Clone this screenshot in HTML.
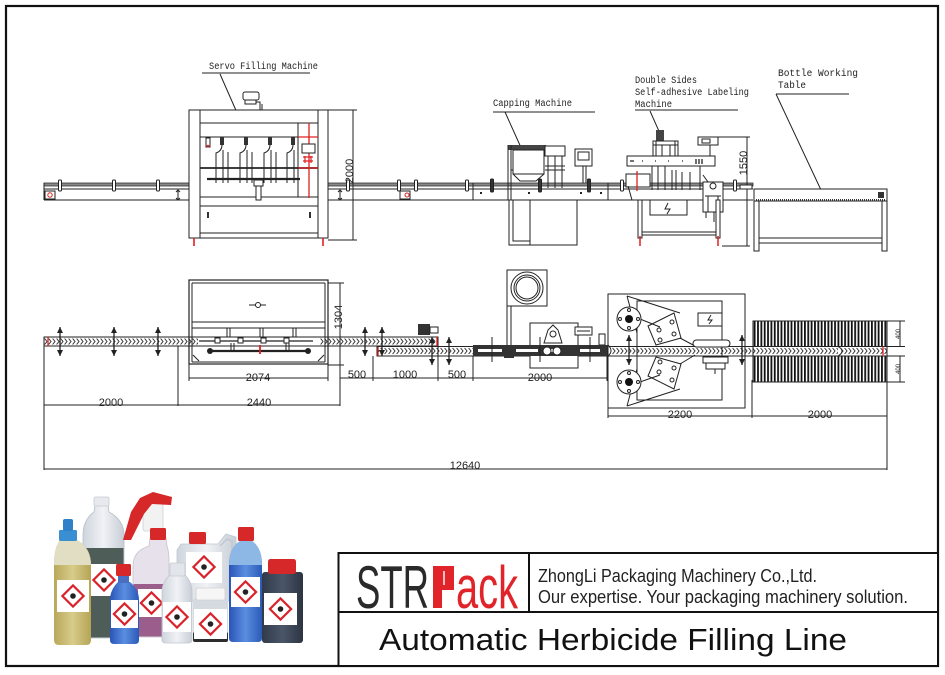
<!DOCTYPE html>
<html><head><meta charset="utf-8">
<style>
html,body{margin:0;padding:0;background:#fff;width:945px;height:675px;overflow:hidden}
svg{display:block}
.s{stroke:#222;stroke-width:1;fill:none}
.w{stroke:#222;stroke-width:1;fill:#fff}
.r{stroke:#e02020;stroke-width:1.3;fill:none}
.lb{font-family:"Liberation Mono",monospace;font-size:10px;fill:#222}
.dm{font-family:"Liberation Sans",sans-serif;font-size:11px;fill:#222;text-anchor:middle}
</style></head><body>
<svg width="945" height="675" viewBox="0 0 945 675" xmlns="http://www.w3.org/2000/svg">
<defs>
<pattern id="ch1" x="0" y="337" width="4" height="9" patternUnits="userSpaceOnUse">
<rect width="4" height="9" fill="#fff"/>
<path d="M0.6,1.5 L3,4.5 L0.6,7.5" stroke="#333" stroke-width="1" fill="none"/>
</pattern>
<pattern id="ch2" x="0" y="346" width="4" height="10" patternUnits="userSpaceOnUse">
<rect width="4" height="10" fill="#fff"/>
<path d="M0.6,2 L3,5 L0.6,8" stroke="#333" stroke-width="1" fill="none"/>
</pattern>
<pattern id="str" x="0" y="0" width="3.35" height="10" patternUnits="userSpaceOnUse">
<rect x="0" y="0" width="1.8" height="10" fill="#111"/>
</pattern>
</defs>

<!-- outer border -->
<rect x="6" y="6" width="932" height="660" fill="none" stroke="#111" stroke-width="2.2"/>

<!-- ================= TOP SIDE VIEW ================= -->
<!-- labels -->
<text class="lb" x="209" y="69" textLength="109" lengthAdjust="spacingAndGlyphs">Servo Filling Machine</text>
<path class="s" d="M202,73 H310 M220,74 L238,115"/>
<text class="lb" x="493" y="106" textLength="79" lengthAdjust="spacingAndGlyphs">Capping Machine</text>
<path class="s" d="M493,112 H595 M505,112 L523,152"/>
<text class="lb" x="635" y="83" textLength="62" lengthAdjust="spacingAndGlyphs">Double Sides</text>
<text class="lb" x="635" y="95" textLength="114" lengthAdjust="spacingAndGlyphs">Self-adhesive Labeling</text>
<text class="lb" x="635" y="107" textLength="37" lengthAdjust="spacingAndGlyphs">Machine</text>
<path class="s" d="M635,110 H738 M650,111 L662,138"/>
<text class="lb" x="778" y="76" textLength="80" lengthAdjust="spacingAndGlyphs">Bottle Working</text>
<text class="lb" x="778" y="88" textLength="28" lengthAdjust="spacingAndGlyphs">Table</text>
<path class="s" d="M776,94 H849 M776,94 L821,190"/>

<!-- conveyor side -->
<rect x="44" y="183" width="709" height="3" fill="#888" stroke="#333" stroke-width="0.8"/>
<path class="s" d="M44,189 H753 M44,200 H753 M44,183 V200"/>
<rect x="45" y="191" width="10" height="8" class="w"/>
<circle cx="50" cy="195" r="2.2" fill="none" stroke="#e02020"/>
<rect x="400" y="191" width="10" height="8" class="w"/>
<circle cx="407" cy="195" r="2" fill="none" stroke="#e02020"/>
<g class="w">
<rect x="58.5" y="180" width="3" height="11" rx="1"/>
<rect x="112.5" y="180" width="3" height="11" rx="1"/>
<rect x="156.5" y="180" width="3" height="11" rx="1"/>
<rect x="346.5" y="180" width="3" height="11" rx="1"/>
<rect x="397.5" y="180" width="3" height="11" rx="1"/>
<rect x="414.5" y="180" width="3" height="11" rx="1"/>
<rect x="465.5" y="180" width="3" height="11" rx="1"/>
<rect x="490.5" y="179" width="3" height="13" rx="1" fill="#333"/>
<rect x="538.5" y="179" width="3" height="13" rx="1" fill="#333"/>
<rect x="587.5" y="179" width="3" height="13" rx="1" fill="#333"/>
<rect x="620.5" y="180" width="3" height="11" rx="1"/>
<rect x="733.5" y="180" width="3" height="11" rx="1"/>
</g>
<path class="s" d="M178,190 V200 M176,192 L178,190 L180,192 M176,198 L178,200 L180,198 M340,190 V200 M338,192 L340,190 L342,192 M338,198 L340,200 L342,198"/>
<path class="s" d="M473,183 V200 M608,183 V200" stroke-width="0.8"/>
<path d="M480,193 h2 M528,193 h2 M580,193 h2 M600,193 h2" stroke="#222" stroke-width="2"/>

<!-- filling machine side -->
<rect x="189" y="110" width="139" height="128" class="w" stroke-width="1.2"/>
<path class="s" d="M200,110 V238 M318,110 V238 M200,123 H318 M200,137 H298 M298,123 V197 M200,197 H318 M200,206 H318 M200,233 H318"/>
<path d="M200,168 H318" stroke="#222" stroke-width="1.8"/>
<path class="r" d="M309,123 V198 M298,137 H318 M298,168 H318"/>
<rect x="302" y="144" width="13" height="9" class="w" stroke-width="1.3"/>
<path d="M303,157 h10 M303,161 h10 M305,156 v7 M311,156 v7" stroke="#e02020" stroke-width="1.2"/>
<g class="s">
<path d="M222,137 v8 q0,6 -6,8 v30 M223,150 v33 M228,152 v31"/>
<path d="M246,137 v8 q0,6 -6,8 v30 M247,150 v33 M252,152 v31"/>
<path d="M270,137 v8 q0,6 -6,8 v30 M271,150 v33 M276,152 v31"/>
<path d="M293,137 v8 q0,6 -6,8 v30 M294,150 v33"/>
</g>
<rect x="220" y="137" width="4" height="8" fill="#333"/>
<rect x="244" y="137" width="4" height="8" fill="#333"/>
<rect x="268" y="137" width="4" height="8" fill="#333"/>
<rect x="291" y="137" width="4" height="8" fill="#333"/>
<rect x="206" y="138" width="4" height="9" class="w"/>
<circle cx="208" cy="146" r="1.3" fill="#e02020"/>
<path d="M207,179 H300" stroke="#222" stroke-width="2.2"/>
<rect x="254" y="180" width="9" height="6" class="w"/>
<rect x="256" y="186" width="5" height="14" class="w"/>
<rect x="207" y="212" width="2" height="6" fill="#333"/>
<rect x="309" y="212" width="2" height="6" fill="#333"/>
<rect x="243" y="92" width="16" height="8" rx="2" class="w" stroke-width="1.2"/>
<rect x="245" y="100" width="11" height="4" class="w"/>
<path class="s" d="M256,102 H260 V110 M262,104 V110"/>
<path d="M194,238 V246 M323,238 V246" stroke="#e02020" stroke-width="1.6"/>
<path class="s" d="M353,110 V240 M328,110 H357 M328,240 H357"/>
<text class="dm" transform="translate(353,171) rotate(-90)">2000</text>

<!-- capping machine side -->
<rect x="508" y="145" width="38" height="5" fill="#444"/>
<path class="s" d="M508,145 V200 M511,145 V200"/>
<rect x="513" y="150" width="31" height="24" class="w"/>
<path class="s" d="M513,174 L520,181 H536 L544,174 M511,170 H513"/>
<rect x="545" y="146" width="20" height="10" class="w"/>
<path class="s" d="M548,156 V188 M555,156 V188 M562,156 V188 M545,166 H565 M545,170 H565"/>
<rect x="575" y="149" width="17" height="17" class="w" stroke-width="1.2"/>
<rect x="578" y="152" width="11" height="8" class="w"/>
<path class="s" d="M583,166 V183 M586,166 V183"/>
<rect x="509" y="200" width="21" height="45" class="w"/>
<path class="s" d="M513,200 V241 H530"/>
<rect x="530" y="200" width="47" height="45" class="w"/>

<!-- labeling machine side -->
<rect x="656" y="130" width="8" height="11" fill="#444"/>
<rect x="653" y="141" width="25" height="16" class="w"/>
<path class="s" d="M656,141 V157 M662,145 V157 M670,145 V157 M675,141 V157 M653,145 H678"/>
<rect x="627" y="156" width="88" height="10" class="w" stroke-width="1.2"/>
<path d="M630,161 h4 M642,161 h1 M655,161 h1 M668,161 h1 M682,161 h1 M696,159 v5 M699,159 v5 M702,159 v5" stroke="#222" stroke-width="1.3"/>
<rect x="698" y="137" width="20" height="8" class="w"/>
<rect x="702" y="139" width="8" height="4" class="w"/>
<path class="s" d="M710,145 V156"/>
<rect x="626" y="174" width="24" height="13" class="w"/>
<path class="r" d="M637,171 V191"/>
<path class="s" d="M652,166 V190 M658,166 V190 M665,166 V190 M672,170 V190 M676,170 V190 M682,172 V190 M690,172 V190 M700,166 V190"/>
<rect x="703" y="182" width="20" height="30" class="w" stroke-width="1.2"/>
<circle cx="713" cy="186" r="3" class="w"/>
<path class="s" d="M705,196 H721 M708,196 V212 M718,196 V212 M703,175 L708,182 M706,212 V218 M714,212 V222"/>
<rect x="650" y="200" width="37" height="15" class="w"/>
<path d="M668,203 L665,209 H670 L667,214" stroke="#222" fill="none"/>
<rect x="638" y="200" width="4" height="38" class="w"/>
<rect x="716" y="200" width="4" height="38" class="w"/>
<path class="s" d="M642,232 H716 M642,235 H716 M628,186 L632,200"/>
<path d="M640,236 V246 M718,236 V246" stroke="#e02020" stroke-width="1.5"/>
<path class="s" d="M747,137 V246 M718,137 H750 M722,246 H750"/>
<text class="dm" transform="translate(747,163) rotate(-90)">1550</text>
<rect x="740" y="185" width="12" height="4" class="w"/>

<!-- table -->
<rect x="754" y="189" width="133" height="12" class="w" stroke-width="1.2"/>
<path d="M756,200 H885" stroke="#333" stroke-width="2" stroke-dasharray="1,1"/>
<rect x="878" y="192" width="6" height="6" fill="#333"/>
<rect x="754" y="201" width="5" height="50" class="w"/>
<rect x="882" y="201" width="5" height="50" class="w"/>
<rect x="759" y="238" width="123" height="5" class="w"/>

<!-- ================= MIDDLE TOP VIEW ================= -->
<!-- conveyors -->
<rect x="44" y="337" width="394" height="9" fill="url(#ch1)" stroke="#222" stroke-width="1"/>
<rect x="377" y="346.5" width="510" height="9.5" fill="url(#ch2)" stroke="#222" stroke-width="1"/>
<path class="r" d="M48,337 V346 M378,347 V356 M437,337 V346 M883,346.5 V356"/>

<!-- filling machine top -->
<rect x="189" y="280" width="139" height="84" fill="none" stroke="#222" stroke-width="1.2"/>
<rect x="198" y="336" width="122" height="20" fill="#fff"/>
<path class="s" d="M192,283 V362 M325,283 V362 M192,283 H325 M192,322 H325 M192,328 H325 M192,362 H325 M198,337 H320 M198,346 H320 M227,328 V337 M230,328 V337 M260,328 V337 M263,328 V337 M293,328 V337 M296,328 V337"/>
<path class="s" d="M249,305 H266"/>
<circle cx="258" cy="305" r="2.5" class="w"/>
<path class="s" d="M193,355 L199,361 M324,355 L318,361"/>
<path d="M199,341 H313" stroke="#222" stroke-width="1.2"/>
<path d="M210,351 H308" stroke="#222" stroke-width="2.2"/>
<rect x="215" y="338" width="5" height="5" class="w"/><rect x="238" y="338" width="5" height="5" class="w"/><rect x="261" y="338" width="5" height="5" class="w"/><rect x="284" y="338" width="5" height="5" class="w"/>
<circle cx="210" cy="351" r="3" fill="#222"/><circle cx="308" cy="351" r="3" fill="#222"/>
<path class="s" d="M231,343 V352 M234,343 V352 M286,343 V352 M289,343 V352"/>
<path d="M260,345 V354" stroke="#e02020" stroke-width="1.8"/>
<path class="s" d="M340,283 V365 M328,283 H344 M328,365 H344"/>
<text class="dm" transform="translate(342,317) rotate(-90)">1304</text>

<!-- posts (double arrows) -->
<g fill="#222" stroke="#222" stroke-width="1.3">
<path d="M60,327 V356 M114,327 V356 M158,327 V356 M365,327 V356 M382,327 V356 M432,337 V365 M449,337 V365 M629,335 V365 M742,335 V365"/>
</g>
<g fill="#222">
<path d="M57,333 L60,327 L63,333Z M57,350 L60,356 L63,350Z M111,333 L114,327 L117,333Z M111,350 L114,356 L117,350Z M155,333 L158,327 L161,333Z M155,350 L158,356 L161,350Z M362,333 L365,327 L368,333Z M362,350 L365,356 L368,350Z M379,333 L382,327 L385,333Z M379,350 L382,356 L385,350Z M429,343 L432,337 L435,343Z M429,359 L432,365 L435,359Z M446,343 L449,337 L452,343Z M446,359 L449,365 L452,359Z M626,341 L629,335 L632,341Z M626,359 L629,365 L632,359Z M739,341 L742,335 L745,341Z M739,359 L742,365 L745,359Z"/>
</g>
<!-- small motor at transfer -->
<rect x="418" y="324" width="12" height="11" fill="#333"/>
<rect x="430" y="327" width="8" height="6" class="w"/>

<!-- capping top -->
<rect x="507" y="270" width="40" height="36" class="w" stroke-width="1.2"/>
<circle cx="527" cy="288" r="16" class="w" stroke-width="1.3"/>
<circle cx="527" cy="288" r="13" class="s"/>
<circle cx="527" cy="288" r="11" class="s"/>
<path class="s" d="M507,306 V356 M511,306 V356"/>
<rect x="530" y="323" width="48" height="45" class="w"/>
<path class="s" d="M544,343 L548,330 L553,325 L558,330 L562,343 Z"/>
<circle cx="553" cy="334" r="3" class="w"/>
<rect x="575" y="327" width="17" height="8" class="w"/>
<path class="s" d="M577,331 H590"/>
<rect x="599" y="334" width="6" height="11" class="w"/>
<rect x="473" y="345" width="135" height="11" fill="#333"/>
<path d="M478,350.5 h24 M516,350.5 h22 M548,350.5 h8 M580,350.5 h20" stroke="#fff" stroke-width="3"/>
<circle cx="547" cy="351" r="4" class="w"/><circle cx="557" cy="351" r="4" class="w"/>
<rect x="504" y="354" width="10" height="4" fill="#333"/>
<path class="s" d="M492,337 V362 M540,337 V362 M590,337 V362"/>
<path d="M608,345 Q614,351 608,356" class="w"/>

<!-- labeling top -->
<rect x="608" y="294" width="137" height="114" fill="none" stroke="#222"/>
<rect x="637" y="301" width="85" height="99" fill="none" stroke="#222"/>
<rect x="698" y="313" width="24" height="13" class="w"/>
<path d="M711,315 L708,320 H712 L709,324" stroke="#222" fill="none"/>
<path class="s" d="M627,296 L680,313 M627,296 L637,333 M627,406 L680,389 M627,406 L637,369"/>
<polygon points="648,326 674,313 681,338 656,345" class="w"/>
<polygon points="648,376 674,389 681,364 656,357" class="w"/>
<circle cx="659" cy="330" r="2" class="s"/><circle cx="672" cy="322" r="2" class="s"/><circle cx="660" cy="340" r="2" class="s"/><circle cx="674" cy="334" r="2" class="s"/>
<circle cx="659" cy="372" r="2" class="s"/><circle cx="672" cy="380" r="2" class="s"/><circle cx="660" cy="362" r="2" class="s"/><circle cx="674" cy="368" r="2" class="s"/>
<path class="s" d="M640,319 L660,327 M640,382 L660,375 M680,338 L695,346 M680,364 L695,355"/>
<circle cx="629" cy="319" r="12" class="w"/><circle cx="629" cy="319" r="4" fill="#111"/>
<circle cx="629" cy="310" r="1.5" class="s"/><circle cx="629" cy="328" r="1.5" class="s"/><circle cx="620" cy="319" r="1.5" class="s"/><circle cx="638" cy="319" r="1.5" class="s"/>
<circle cx="629" cy="382" r="12" class="w"/><circle cx="629" cy="382" r="4" fill="#111"/>
<circle cx="629" cy="373" r="1.5" class="s"/><circle cx="629" cy="391" r="1.5" class="s"/><circle cx="620" cy="382" r="1.5" class="s"/><circle cx="638" cy="382" r="1.5" class="s"/>
<rect x="693" y="340" width="37" height="7" rx="3.5" class="w" stroke-width="1.2"/>
<rect x="703" y="357" width="25" height="6" class="w"/>
<rect x="706" y="363" width="19" height="6" class="w"/>
<path class="s" d="M715,369 V374"/>

<!-- accumulation table -->
<rect x="753" y="321" width="134" height="61" fill="url(#str)" stroke="#222"/>
<rect x="753" y="346.5" width="134" height="9.5" fill="url(#ch2)" stroke="#222"/>
<path class="r" d="M883,346.5 V356"/>
<path class="s" d="M887,321 H905 M887,346.5 H905 M887,356 H905 M887,382 H905 M900,321 V346.5 M900,356 V382"/>
<text class="dm" style="font-size:6px" transform="translate(900,334) rotate(-90)">400</text>
<text class="dm" style="font-size:6px" transform="translate(900,369) rotate(-90)">400</text>
<path class="w" d="M838,346.5 Q846,351 838,356" />

<!-- dimensions -->
<path class="s" d="M189,364 V381 M328,364 V381 M189,378 H328"/>
<text class="dm" x="258" y="381">2074</text>
<path class="s" d="M340,365 V381 M373,356 V381 M438,346 V381 M473,356 V381 M607,356 V381 M340,378 H607"/>
<text class="dm" x="357" y="378">500</text>
<text class="dm" x="405" y="378">1000</text>
<text class="dm" x="457" y="378">500</text>
<text class="dm" x="540" y="381">2000</text>
<path class="s" d="M44,346 V470 M178,346 V406 M340,378 V406 M44,405 H340"/>
<text class="dm" x="111" y="406">2000</text>
<text class="dm" x="259" y="406">2440</text>
<path class="s" d="M608,356 V418 M752,380 V418 M887,382 V470 M608,416 H887"/>
<text class="dm" x="680" y="418">2200</text>
<text class="dm" x="820" y="418">2000</text>
<path class="s" d="M44,469 H887"/>
<text class="dm" x="465" y="469">12640</text>

<!-- ================= BOTTLES IMAGE ================= -->
<defs>
<linearGradient id="gy" x1="0" x2="1"><stop offset="0" stop-color="#b9a85a"/><stop offset="0.5" stop-color="#d8cc8a"/><stop offset="1" stop-color="#b5a456"/></linearGradient>
<linearGradient id="gb" x1="0" x2="1"><stop offset="0" stop-color="#2a55b8"/><stop offset="0.5" stop-color="#5a8ee0"/><stop offset="1" stop-color="#2a5ab8"/></linearGradient>
<linearGradient id="gd" x1="0" x2="1"><stop offset="0" stop-color="#303a4a"/><stop offset="0.5" stop-color="#4a5668"/><stop offset="1" stop-color="#2c3442"/></linearGradient>
<linearGradient id="gc" x1="0" x2="1"><stop offset="0" stop-color="#cfd5dd"/><stop offset="0.5" stop-color="#f0f2f5"/><stop offset="1" stop-color="#c8ced6"/></linearGradient>
<g id="hz"><rect x="-7.5" y="-7.5" width="15" height="15" transform="rotate(45)" fill="#fff" stroke="#d9232a" stroke-width="2.2"/><circle r="2.8" fill="#222"/></g>
</defs>
<!-- tall translucent bottle -->
<path d="M95,505 H108 L109,512 Q124,520 124,535 V632 Q124,638 118,638 H89 Q83,638 83,632 V535 Q83,520 94,512 Z" fill="url(#gc)" stroke="#b8c0ca" stroke-width="0.8"/>
<path d="M83.5,548 H123.5 V632 Q123.5,637.5 118,637.5 H89 Q83.5,637.5 83.5,632 Z" fill="#4f5d58"/>
<rect x="94" y="497" width="15" height="9" rx="1.5" fill="#e6eaee" stroke="#c5ccd4" stroke-width="0.8"/>
<rect x="87" y="564" width="34" height="32" fill="#fff"/>
<use href="#hz" x="104" y="580"/>
<!-- spray bottle -->
<path d="M150,538 H166 L167,546 Q169,552 169,560 V631 Q169,637 163,637 H139 Q133,637 133,631 V566 Q133,551 149,546 Z" fill="#e6e1ea" stroke="#c8c2cc" stroke-width="0.8"/>
<path d="M133.5,584 H168.5 V631 Q168.5,636.5 163,636.5 H139 Q133.5,636.5 133.5,631 Z" fill="#9b5d8c"/>
<rect x="143" y="503" width="20" height="28" rx="2" fill="#f2f2f2" stroke="#cfcfcf" stroke-width="0.8"/>
<path d="M123,540 L131,512 L140,498 L153,492 L172,497 L171,505 L152,504 L144,514 L131,540 Z" fill="#d62828"/>
<rect x="150" y="528" width="16" height="12" rx="1.5" fill="#d62828"/>
<rect x="138" y="589" width="27" height="28" fill="#fff"/>
<use href="#hz" x="151.5" y="603"/>
<!-- jerrycan -->
<path d="M181,544 H218 L226,534 L236,537 V598 Q236,601 232,601 H181 Q177,601 177,597 V550 Z" fill="url(#gc)" stroke="#bfc8d2" stroke-width="0.8"/>
<path d="M220,546 L227,539 L232,541 V556" fill="none" stroke="#bfc8d2" stroke-width="1.5"/>
<rect x="189" y="532" width="17" height="12" rx="1.5" fill="#d62828"/>
<rect x="186" y="552" width="36" height="31" fill="#fff"/>
<use href="#hz" x="204" y="567"/>
<!-- yellow bottle -->
<path d="M60,540 H77 Q91,548 91,565 V640 Q91,645 86,645 H59 Q54,645 54,640 V565 Q54,548 60,540 Z" fill="url(#gy)"/>
<path d="M60,540 H77 Q91,548 91,565 H54 Q54,548 60,540 Z" fill="#e2dec4"/>
<rect x="59" y="530" width="18" height="11" rx="1.5" fill="#3a8fd2"/>
<rect x="63" y="519" width="10" height="12" rx="2" fill="#2f80c9"/>
<rect x="57" y="580" width="32" height="32" fill="#fff"/>
<use href="#hz" x="73" y="596"/>
<!-- small blue bottle -->
<path d="M118,582 Q110,590 110,600 V640 Q110,644 114,644 H135 Q139,644 139,640 V600 Q139,590 130,582 Z" fill="url(#gb)"/>
<rect x="118" y="574" width="11" height="9" fill="#4a6fc0"/>
<rect x="116" y="564" width="15" height="12" rx="1.5" fill="#d62828"/>
<rect x="111" y="600" width="27" height="28" fill="#fff"/>
<use href="#hz" x="124.5" y="614"/>
<!-- small clear bottle -->
<path d="M170,575 Q162,582 162,592 V640 Q162,643 166,643 H188 Q192,643 192,640 V592 Q192,582 185,575 Z" fill="url(#gc)" stroke="#c0c6cc" stroke-width="0.8"/>
<rect x="170" y="563" width="15" height="13" rx="1.5" fill="#e2e6ea" stroke="#c4cad0" stroke-width="0.8"/>
<rect x="163" y="602" width="28" height="30" fill="#fff"/>
<use href="#hz" x="177" y="617"/>
<!-- jar -->
<rect x="193" y="598" width="35" height="44" rx="3" fill="#d5dae0"/>
<rect x="193" y="632" width="35" height="10" rx="2" fill="#2c2c2c"/>
<rect x="196" y="588" width="29" height="12" rx="2" fill="#f6f6f6" stroke="#cfcfcf" stroke-width="0.8"/>
<rect x="194" y="609" width="33" height="30" fill="#fff"/>
<use href="#hz" x="210.5" y="624"/>
<!-- blue bottle -->
<path d="M240,541 Q229,548 229,565 V638 Q229,642 233,642 H258 Q262,642 262,638 V565 Q262,548 252,541 Z" fill="url(#gb)"/>
<path d="M240,541 Q229,548 229,565 H262 Q262,548 252,541 Z" fill="#8db8e6"/>
<rect x="238" y="527" width="16" height="14" rx="1.5" fill="#d62828"/>
<rect x="231" y="577" width="29" height="30" fill="#fff"/>
<use href="#hz" x="245.5" y="592"/>
<!-- dark jar -->
<rect x="262" y="572" width="41" height="71" rx="3" fill="url(#gd)"/>
<rect x="268" y="559" width="28" height="15" rx="2.5" fill="#d62828"/>
<rect x="264" y="593" width="33" height="32" fill="#fff"/>
<use href="#hz" x="280.5" y="609"/>

<!-- ================= TITLE BOX ================= -->
<rect x="338.5" y="553" width="599.5" height="113" fill="#fff" stroke="#111" stroke-width="2"/>
<path d="M529,553 V612 M338.5,612 H938" stroke="#111" stroke-width="2"/>
<text x="356" y="608" font-family="Liberation Sans, sans-serif" font-size="60" fill="#2a2a2a" textLength="73" lengthAdjust="spacingAndGlyphs">STR</text>
<rect x="433" y="566" width="9" height="42" fill="#e0242a"/>
<rect x="441" y="566" width="13" height="24" fill="#e0242a"/>
<rect x="443.3" y="571" width="1.4" height="14" fill="#fff"/>
<text x="456" y="608" font-family="Liberation Sans, sans-serif" font-size="60" fill="#e0242a" textLength="62" lengthAdjust="spacingAndGlyphs">ack</text>
<text x="538" y="582" font-family="Liberation Sans, sans-serif" font-size="18" fill="#222" textLength="279" lengthAdjust="spacingAndGlyphs">ZhongLi Packaging Machinery Co.,Ltd.</text>
<text x="538" y="603" font-family="Liberation Sans, sans-serif" font-size="18" fill="#222" textLength="370" lengthAdjust="spacingAndGlyphs">Our expertise. Your packaging machinery solution.</text>
<text x="379" y="650" font-family="Liberation Sans, sans-serif" font-size="30.5" fill="#111" textLength="468" lengthAdjust="spacingAndGlyphs">Automatic Herbicide Filling Line</text>
</svg>
</body></html>
